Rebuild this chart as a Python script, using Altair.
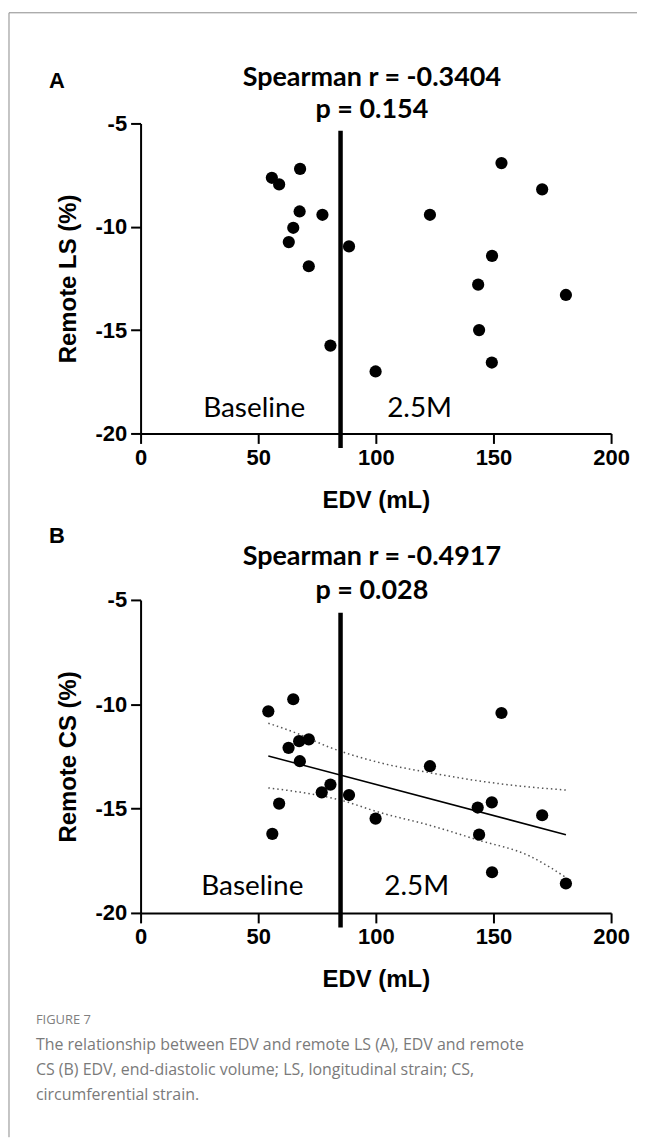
import altair as alt
import pandas as pd

# ---------------- data ----------------
edv_a = [55.8, 58.9, 67.8, 67.6, 77.3, 64.9, 63.0, 71.5, 88.6, 80.7, 99.9,
         123.0, 153.4, 170.7, 149.4, 143.5, 180.8, 143.9, 149.3]
ls_a = [-7.63, -7.95, -7.20, -9.26, -9.42, -10.05, -10.74, -11.91, -10.95, -15.75, -17.0,
        -9.42, -6.92, -8.19, -11.41, -12.80, -13.30, -15.0, -16.57]

edv_b = [54.3, 64.9, 62.9, 67.4, 71.5, 67.7, 80.7, 77.0, 88.6, 58.9, 56.0, 99.9,
         123.0, 153.4, 149.3, 143.3, 170.7, 143.9, 149.4, 180.8]
cs_b = [-10.34, -9.76, -12.09, -11.77, -11.68, -12.73, -13.85, -14.22, -14.35, -14.76, -16.21, -15.48,
        -12.97, -10.42, -14.70, -14.95, -15.32, -16.25, -18.05, -18.59]

fit_x = [54.3, 180.8]
fit_y = [-12.48, -16.25]
band_up_x = [54.3, 66.4, 80.5, 101.7, 122.9, 143.5, 164.8, 180.8]
band_up_y = [-10.91, -11.39, -12.07, -12.80, -13.28, -13.67, -13.96, -14.11]
band_lo_x = [54.3, 66.4, 84.5, 101.8, 122.9, 143.3, 165.3, 180.8]
band_lo_y = [-14.01, -14.19, -14.58, -15.19, -15.80, -16.50, -17.27, -18.30]

cutoff_edv = 85
vline_a = [-5.35, -20.7]
vline_b = [-5.62, -20.7]

x_ticks = [0, 50, 100, 150, 200]
y_ticks = [-20, -15, -10, -5]

group_labels = ["Baseline", "2.5M"]
group_label_x_a = [48.3, 118.6]
group_label_x_b = [47.5, 117.4]
group_label_y_a = [-18.84, -18.84]
group_label_y_b = [-18.76, -18.76]

titles_a = ["A", "Spearman r = -0.3404", "p = 0.154"]
titles_b = ["B", "Spearman r = -0.4917", "p = 0.028"]
title_y_a = [-43, -46, -13]
title_y_b = [-64, -43, -9]

caption_head = "FIGURE 7"
caption_lines = [
    "The relationship between EDV and remote LS (A), EDV and remote",
    "CS (B) EDV, end-diastolic volume; LS, longitudinal strain; CS,",
    "circumferential strain.",
]

W = 472
H_A = 311
H_B = 314
LABEL_FONT = "Liberation Sans, Arial, sans-serif"
TITLE_FONT = "Lato, Carlito, Calibri, sans-serif"
CAP_FONT = "Open Sans, sans-serif"


def xenc():
    return alt.X("edv:Q", scale=alt.Scale(domain=[0, 200], nice=False),
                 axis=alt.Axis(values=x_ticks, title="EDV (mL)", titlePadding=20,
                               labelFlush=False, labelExpr="'' + datum.value"))


def yenc(title):
    return alt.Y("val:Q", scale=alt.Scale(domain=[-20, -5], nice=False),
                 axis=alt.Axis(values=y_ticks, title=title, titlePadding=14,
                               labelFlush=False, labelExpr="'' + datum.value"))


def txt(text, x, y, size, font, weight="normal", align="center", color="black", baseline="middle"):
    return alt.Chart(pd.DataFrame({"t": [text]})).mark_text(
        font=font, fontSize=size, fontWeight=weight, align=align, baseline=baseline, color=color
    ).encode(text="t:N", x=alt.value(x), y=alt.value(y))


def panel(edv, val, ylab, titles, title_y, vline, glx, gly):
    df = pd.DataFrame({"edv": edv, "val": val})
    vdf = pd.DataFrame({"edv": [cutoff_edv], "val": [vline[0]], "val2": [vline[1]]})
    gdf = pd.DataFrame({"edv": glx, "val": gly, "t": group_labels})

    rule = alt.Chart(vdf).mark_rule(color="black", strokeWidth=4.5).encode(
        x=xenc(), y=yenc(ylab), y2="val2:Q")
    pts = alt.Chart(df).mark_circle(size=150, color="black", opacity=1).encode(
        x=xenc(), y=yenc(ylab))
    glab = alt.Chart(gdf).mark_text(font=TITLE_FONT, fontSize=28, color="black").encode(
        x=xenc(), y=yenc(ylab), text="t:N")
    layers = [rule, pts, glab,
              txt(titles[0], -84, title_y[0], 22, LABEL_FONT, "bold"),
              txt(titles[1], 232, title_y[1], 27, TITLE_FONT, "bold"),
              txt(titles[2], 232, title_y[2], 27, TITLE_FONT, "bold")]
    return layers


layers_a = panel(edv_a, ls_a, "Remote LS (%)", titles_a, title_y_a, vline_a,
                 group_label_x_a, group_label_y_a)

# frame of the figure (thin grey border on top and left)
frame = alt.Chart(pd.DataFrame({"d": [0]}))
frame_left = frame.mark_rule(color="#8c8c8c", strokeWidth=1).encode(
    x=alt.value(-132), y=alt.value(-111), y2=alt.value(1017))
frame_top = frame.mark_rule(color="#8c8c8c", strokeWidth=1).encode(
    x=alt.value(-132), x2=alt.value(498), y=alt.value(-111))

chart_a = alt.layer(frame_left, frame_top, *layers_a).properties(width=W, height=H_A)

layers_b = panel(edv_b, cs_b, "Remote CS (%)", titles_b, title_y_b, vline_b,
                 group_label_x_b, group_label_y_b)

fit_df = pd.DataFrame({"edv": fit_x, "val": fit_y})
up_df = pd.DataFrame({"edv": band_up_x, "val": band_up_y})
lo_df = pd.DataFrame({"edv": band_lo_x, "val": band_lo_y})
fit_line = alt.Chart(fit_df).mark_line(color="black", strokeWidth=1.5).encode(
    x=xenc(), y=yenc("Remote CS (%)"))
up_line = alt.Chart(up_df).mark_line(color="#555555", strokeWidth=1.5, strokeDash=[1.5, 3],
                                     interpolate="monotone").encode(
    x=xenc(), y=yenc("Remote CS (%)"))
lo_line = alt.Chart(lo_df).mark_line(color="#555555", strokeWidth=1.5, strokeDash=[1.5, 3],
                                     interpolate="monotone").encode(
    x=xenc(), y=yenc("Remote CS (%)"))

cap_layers = [txt(caption_head, -105, 421, 13, CAP_FONT, "normal", "left", "#808080")]
for i, line in enumerate(caption_lines):
    cap_layers.append(txt(line, -105, 447 + 25 * i, 16, CAP_FONT, "normal", "left", "#7a7a7a"))

chart_b = alt.layer(up_line, lo_line, fit_line, *layers_b, *cap_layers).properties(width=W, height=H_B)

chart = alt.vconcat(chart_a, chart_b, spacing=167, bounds="flush").properties(
    padding={"top": 2, "left": 0, "right": 0, "bottom": 0}
).configure_view(stroke=None).configure_axis(
    grid=False,
    domainColor="black", domainWidth=2,
    tickColor="black", tickWidth=2, tickSize=10,
    labelFont=LABEL_FONT, labelFontSize=22, labelFontWeight="bold", labelColor="black",
    labelPadding=4,
    titleFont=LABEL_FONT, titleFontSize=24, titleFontWeight="bold", titleColor="black",
)

chart.save("out.html", embed_options={"renderer": "svg", "actions": False})
